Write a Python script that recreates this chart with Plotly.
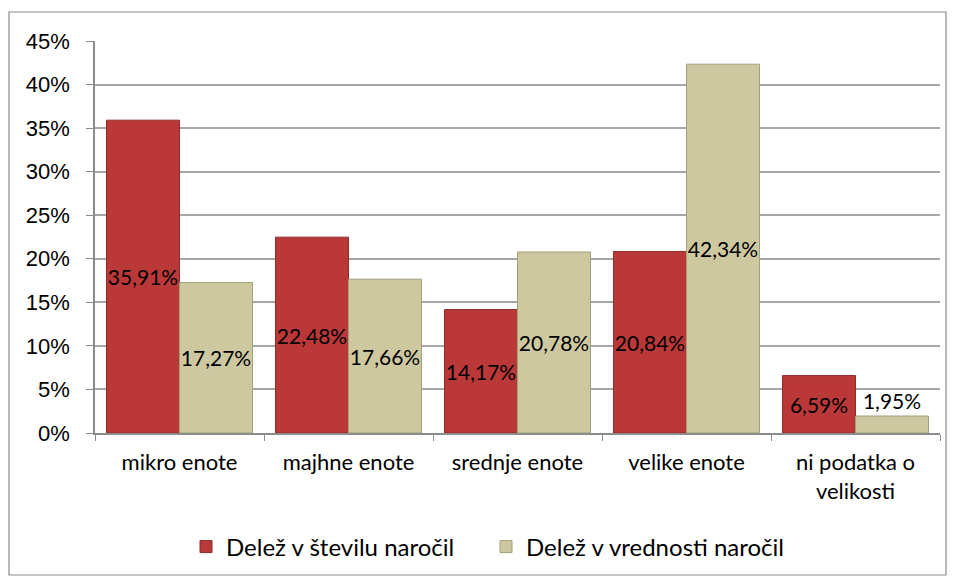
import plotly.graph_objects as go

categories = ["mikro enote", "majhne enote", "srednje enote", "velike enote", "ni podatka o<br>velikosti"]
series_names = ["Delež v številu naročil", "Delež v vrednosti naročil"]
stevilo = [0.3591, 0.2248, 0.1417, 0.2084, 0.0659]
vrednost = [0.1727, 0.1766, 0.2078, 0.4234, 0.0195]
y_ticks = [0, 0.05, 0.10, 0.15, 0.20, 0.25, 0.30, 0.35, 0.40, 0.45]

# page body has an 8px margin, so the figure is laid out 8px smaller
OFF = 8
W, H = 956 - OFF, 581 - OFF
L, R, T, B = 87, 16, 33, 148
pw, ph = W - L - R, H - T - B

def pos_for(vals):
    return ["outside" if v < 0.03 else "inside" for v in vals]

label_font = dict(family="Lato, Open Sans, sans-serif", size=21, color="black")

fig = go.Figure()
fig.add_trace(go.Bar(
    x=categories, y=stevilo, name=series_names[0],
    marker=dict(color="#BA3838", line=dict(color="#8E2A2B", width=1)),
    texttemplate="%{y:.2%}", textposition=pos_for(stevilo),
    insidetextanchor="middle", textangle=0, constraintext="none",
    textfont=label_font, cliponaxis=False,
))
fig.add_trace(go.Bar(
    x=categories, y=vrednost, name=series_names[1],
    marker=dict(color="#CEC8A1", line=dict(color="#A39E7C", width=1)),
    texttemplate="%{y:.2%}", textposition=pos_for(vrednost),
    insidetextanchor="middle", textangle=0, constraintext="none",
    textfont=label_font, cliponaxis=False,
))

fig.update_layout(
    width=W, height=H,
    margin=dict(l=L, r=R, t=T, b=B, autoexpand=False),
    paper_bgcolor="white", plot_bgcolor="white",
    separators=", ",
    barmode="group", bargap=0.136, bargroupgap=0,
    showlegend=True,
    legend=dict(orientation="h", x=(186 - OFF - L) / pw, xanchor="left",
                y=(H - B - (547 - OFF)) / ph, yanchor="middle",
                font=dict(family="Lato, Open Sans, sans-serif", size=24, color="black"),
                entrywidth=255, itemwidth=30, traceorder="normal"),
    xaxis=dict(
        tickfont=dict(family="Lato, Open Sans, sans-serif", size=22, color="black"),
        showline=True, linecolor="#8C8C8C", linewidth=1.5,
        ticks="outside", tickson="boundaries", ticklen=6, tickcolor="#8C8C8C",
        showgrid=False, ticklabelstandoff=9,
    ),
    yaxis=dict(
        range=[0, 0.45], tickvals=y_ticks, tickformat=".0%",
        tickfont=dict(family="Liberation Sans, Arial, sans-serif", size=22, color="black"),
        showline=True, linecolor="#8C8C8C", linewidth=1.5,
        ticks="outside", ticklen=7, tickcolor="#8C8C8C", ticklabelstandoff=12,
        showgrid=True, gridcolor="#A6A6A6", gridwidth=1.5,
        zeroline=False,
    ),
    shapes=[dict(
        type="rect", xref="paper", yref="paper",
        x0=(9 - OFF - L) / pw, x1=(946 - OFF - L) / pw,
        y0=(H - B - (575 - OFF)) / ph, y1=(H - B - (12 - OFF)) / ph,
        line=dict(color="#8C8C8C", width=1.2), fillcolor="rgba(0,0,0,0)", layer="below",
    )],
)

fig.write_html("out.html")
